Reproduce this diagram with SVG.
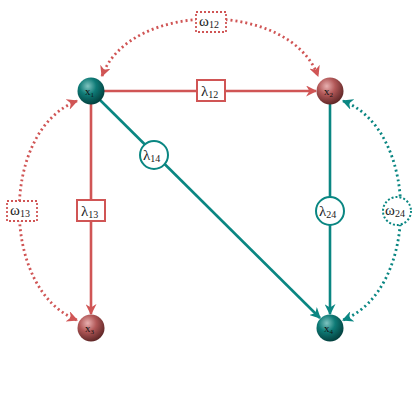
<svg xmlns="http://www.w3.org/2000/svg" width="420" height="420" viewBox="0 0 420 420">
<defs>
  <radialGradient id="gT" cx="0.38" cy="0.32" r="0.7">
    <stop offset="0" stop-color="#7fc4c0"/>
    <stop offset="0.45" stop-color="#0e7a76"/>
    <stop offset="1" stop-color="#033f3d"/>
  </radialGradient>
  <radialGradient id="gR" cx="0.38" cy="0.32" r="0.7">
    <stop offset="0" stop-color="#e8b0b0"/>
    <stop offset="0.45" stop-color="#b25858"/>
    <stop offset="1" stop-color="#5e2626"/>
  </radialGradient>
  <marker id="aR" viewBox="0 0 10 10" refX="9" refY="5" markerWidth="11" markerHeight="11" markerUnits="userSpaceOnUse" orient="auto-start-reverse">
    <path d="M0,0 L10,5 L0,10 L3,5 Z" fill="#d05555"/>
  </marker>
  <marker id="aT" viewBox="0 0 10 10" refX="9" refY="5" markerWidth="11" markerHeight="11" markerUnits="userSpaceOnUse" orient="auto-start-reverse">
    <path d="M0,0 L10,5 L0,10 L3,5 Z" fill="#0a8682"/>
  </marker>
</defs>
<style>
  .r { stroke: #d05555; fill: none; stroke-width: 2.6; }
  .t { stroke: #0a8682; fill: none; stroke-width: 2.6; }
  .dr { stroke: #d05555; fill: none; stroke-width: 2.8; stroke-dasharray: 2 3; }
  .dt { stroke: #0a8682; fill: none; stroke-width: 2.8; stroke-dasharray: 2 3; }
  .lbl { font-family: "Liberation Serif", "DejaVu Serif", serif; font-size: 15px; fill: #1a1a1a; }
  .sub { font-size: 10px; }
  .nl { font-family: "Liberation Serif", "DejaVu Serif", serif; font-size: 11px; fill: #111; }
  .bg { fill: #fff; }
</style>
<rect width="420" height="420" fill="#fff"/>
<g id="connectors">
  <path class="dr" d="M102,76 C130,0 290,0 318,76" marker-start="url(#aR)" marker-end="url(#aR)"/>
  <path class="dr" d="M77,101 C0,130 0,290 77,320" marker-start="url(#aR)" marker-end="url(#aR)"/>
  <path class="dt" d="M343,101 C420,130 420,290 343,320" marker-start="url(#aT)" marker-end="url(#aT)"/>
  <path class="r" d="M104,91 L316,91" marker-end="url(#aR)"/>
  <path class="r" d="M91,104 L91,314" marker-end="url(#aR)"/>
  <path class="t" d="M100,100 L320,318" marker-end="url(#aT)"/>
  <path class="t" d="M330,104 L330,314" marker-end="url(#aT)"/>
</g>
<g id="label-w12">
  <rect x="196" y="12" width="30" height="20" class="bg" stroke="#d05555" stroke-width="1.8" stroke-dasharray="2 2"/>
  <text class="lbl" x="199" y="26">ω<tspan class="sub" dy="2">12</tspan></text>
</g>
<g id="label-w13">
  <rect x="7" y="201" width="30" height="20" class="bg" stroke="#d05555" stroke-width="1.8" stroke-dasharray="2 2"/>
  <text class="lbl" x="10" y="215">ω<tspan class="sub" dy="2">13</tspan></text>
</g>
<g id="label-w24">
  <circle cx="397" cy="211" r="14" class="bg" stroke="#0a8682" stroke-width="2" stroke-dasharray="2 2"/>
  <text class="lbl" x="385" y="215">ω<tspan class="sub" dy="2">24</tspan></text>
</g>
<g id="label-l12">
  <rect x="197" y="80" width="28" height="21" class="bg" stroke="#d05555" stroke-width="2"/>
  <text class="lbl" x="201" y="96">λ<tspan class="sub" dy="2">12</tspan></text>
</g>
<g id="label-l13">
  <rect x="77" y="200" width="28" height="21" class="bg" stroke="#d05555" stroke-width="2"/>
  <text class="lbl" x="81" y="216">λ<tspan class="sub" dy="2">13</tspan></text>
</g>
<g id="label-l14">
  <circle cx="154" cy="155" r="14" class="bg" stroke="#0a8682" stroke-width="2"/>
  <text class="lbl" x="143" y="160">λ<tspan class="sub" dy="2">14</tspan></text>
</g>
<g id="label-l24">
  <circle cx="330" cy="211" r="14" class="bg" stroke="#0a8682" stroke-width="2"/>
  <text class="lbl" x="319" y="216">λ<tspan class="sub" dy="2">24</tspan></text>
</g>
<g id="x1">
  <circle cx="91" cy="91" r="13.5" fill="url(#gT)"/>
  <text class="nl" x="85" y="95">x<tspan font-size="7" dy="1.5">1</tspan></text>
</g>
<g id="x2">
  <circle cx="330" cy="91" r="13.5" fill="url(#gR)"/>
  <text class="nl" x="324" y="95">x<tspan font-size="7" dy="1.5">2</tspan></text>
</g>
<g id="x3">
  <circle cx="91" cy="328" r="13.5" fill="url(#gR)"/>
  <text class="nl" x="85" y="332">x<tspan font-size="7" dy="1.5">3</tspan></text>
</g>
<g id="x4">
  <circle cx="330" cy="328" r="13.5" fill="url(#gT)"/>
  <text class="nl" x="324" y="332">x<tspan font-size="7" dy="1.5">4</tspan></text>
</g>
</svg>
